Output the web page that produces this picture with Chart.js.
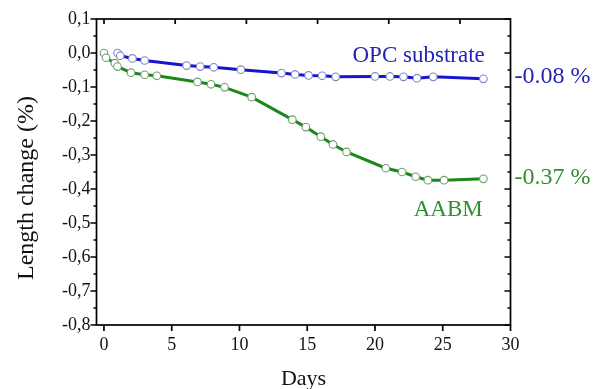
<!DOCTYPE html>
<html>
<head>
<meta charset="utf-8">
<script src="https://cdn.jsdelivr.net/npm/chart.js@4.4.1/dist/chart.umd.min.js"></script>
<style>
  html, body { margin: 0; padding: 0; background: #fff; }
  #wrap { width: 594px; height: 389px; position: relative; }
</style>
</head>
<body>
<div id="wrap"><canvas id="c" width="594" height="389"></canvas></div>
<script>
// ---- data ----
const opcDays   = [1.0, 1.2, 2.1, 3.0, 6.1, 7.1, 8.1, 10.1, 13.1, 14.1, 15.1, 16.1, 17.1, 20.0, 21.1, 22.1, 23.1, 24.3, 28.0];
const opcValues = [0.000, -0.008, -0.016, -0.022, -0.037, -0.040, -0.042, -0.049, -0.059, -0.063, -0.066, -0.067, -0.070, -0.069, -0.069, -0.070, -0.074, -0.070, -0.076];

const aabmDays   = [0.0, 0.15, 0.8, 1.0, 2.0, 3.0, 3.9, 6.9, 7.9, 8.9, 10.9, 13.9, 14.9, 16.0, 16.9, 17.9, 20.8, 22.0, 23.0, 23.9, 25.1, 28.0];
const aabmValues = [0.000, -0.014, -0.030, -0.040, -0.058, -0.064, -0.067, -0.085, -0.092, -0.101, -0.130, -0.196, -0.218, -0.246, -0.269, -0.291, -0.339, -0.350, -0.364, -0.374, -0.374, -0.370];

const seriesNames = ['OPC substrate', 'AABM'];
const endLabels   = ['-0.08 %', '-0.37 %'];
const xTicks = [0, 5, 10, 15, 20, 25, 30];
const yTicks = [0.1, 0.0, -0.1, -0.2, -0.3, -0.4, -0.5, -0.6, -0.7, -0.8];
const xTitle = 'Days';
const yTitle = 'Length change (%)';

// ---- styles ----
const BLUE_LINE = '#1616d0', BLUE_TEXT = '#2424b4', BLUE_PT = '#7f86c8';
const GREEN_LINE = '#1c881c', GREEN_TEXT = '#2f8f2f', GREEN_PT = '#6f9e6f';
const FONT = '"Liberation Serif", "Times New Roman", serif';

const toPts = (xs, ys) => xs.map((x, i) => ({ x: x, y: ys[i] }));

const frameAndText = {
  id: 'frameAndText',
  afterDraw(chart) {
    const { ctx, chartArea: a, scales } = chart;
    const x = scales.x, x2 = scales.x2, y = scales.y;
    ctx.save();
    ctx.strokeStyle = '#000';
    ctx.lineWidth = 1.7;
    ctx.strokeRect(a.left, a.top, a.right - a.left, a.bottom - a.top);
    ctx.beginPath();
    xTicks.forEach(v => { const px = x.getPixelForValue(v); ctx.moveTo(px, a.bottom); ctx.lineTo(px, a.bottom + 6); });
    [0, 5, 10, 15, 20, 25].forEach(v => { const px = x2.getPixelForValue(v); ctx.moveTo(px, a.top); ctx.lineTo(px, a.top + 5); });
    yTicks.forEach(v => {
      const py = y.getPixelForValue(v);
      ctx.moveTo(a.left - 6, py); ctx.lineTo(a.left, py);
      ctx.moveTo(a.right - 6, py); ctx.lineTo(a.right, py);
    });
    ctx.stroke();
    ctx.lineWidth = 1.3;
    ctx.beginPath();
    for (let i = 0; i < yTicks.length - 1; i++) {
      const v = (yTicks[i] + yTicks[i + 1]) / 2;
      const py = y.getPixelForValue(v);
      ctx.moveTo(a.left - 3, py); ctx.lineTo(a.left, py);
      ctx.moveTo(a.right - 3, py); ctx.lineTo(a.right, py);
    }
    ctx.stroke();

    // axis titles
    ctx.fillStyle = '#111';
    ctx.font = '22px ' + FONT;
    ctx.textAlign = 'center';
    ctx.textBaseline = 'middle';
    ctx.fillText(xTitle, (a.left + a.right) / 2, 379);
    ctx.save();
    ctx.translate(27, 188);
    ctx.rotate(-Math.PI / 2);
    ctx.font = '24px ' + FONT;
    ctx.fillText(yTitle, 0, 0);
    ctx.restore();

    // series labels
    ctx.textAlign = 'right';
    ctx.textBaseline = 'alphabetic';
    ctx.font = '23px ' + FONT;
    ctx.fillStyle = BLUE_TEXT;
    ctx.fillText(seriesNames[0], x.getPixelForValue(28.1), y.getPixelForValue(-0.027));
    ctx.fillStyle = GREEN_TEXT;
    ctx.fillText(seriesNames[1], x.getPixelForValue(27.95), y.getPixelForValue(-0.48));

    // end values on right
    ctx.textAlign = 'left';
    ctx.textBaseline = 'middle';
    ctx.font = '24px ' + FONT;
    ctx.fillStyle = BLUE_TEXT;
    ctx.fillText(endLabels[0], a.right + 4, y.getPixelForValue(opcValues[opcValues.length - 1]) - 2);
    ctx.fillStyle = GREEN_TEXT;
    ctx.fillText(endLabels[1], a.right + 4, y.getPixelForValue(aabmValues[aabmValues.length - 1]) - 1);
    ctx.restore();
  }
};

new Chart(document.getElementById('c'), {
  type: 'line',
  data: {
    datasets: [
      {
        label: seriesNames[1],
        data: toPts(aabmDays, aabmValues),
        borderColor: GREEN_LINE,
        borderWidth: 3,
        pointRadius: 3.8,
        pointBorderWidth: 1.1,
        pointBackgroundColor: '#fff',
        pointBorderColor: GREEN_PT,
        tension: 0
      },
      {
        label: seriesNames[0],
        data: toPts(opcDays, opcValues),
        borderColor: BLUE_LINE,
        borderWidth: 3,
        pointRadius: 3.8,
        pointBorderWidth: 1.1,
        pointBackgroundColor: '#fff',
        pointBorderColor: BLUE_PT,
        tension: 0
      }
    ]
  },
  options: {
    responsive: false,
    animation: false,
    devicePixelRatio: 1,
    layout: { padding: { top: 19, right: 83.5, left: 0, bottom: 0 } },
    plugins: { legend: { display: false }, tooltip: { enabled: false } },
    scales: {
      x: {
        type: 'linear',
        position: 'bottom',
        min: -0.55, max: 30,
        afterBuildTicks: s => { s.ticks = xTicks.map(v => ({ value: v })); },
        afterFit: s => { s.height = 64; },
        grid: { display: false, drawTicks: false },
        border: { display: false },
        ticks: { color: '#111', padding: 9, font: { family: FONT, size: 18 }, callback: v => String(v) }
      },
      x2: {
        type: 'linear',
        position: 'top',
        display: false,
        min: -0.527, max: 28.55
      },
      y: {
        type: 'linear',
        min: -0.8, max: 0.1,
        afterBuildTicks: s => { s.ticks = yTicks.map(v => ({ value: v })); },
        afterFit: s => { s.width = 96.5; },
        grid: { display: false, drawTicks: false },
        border: { display: false },
        ticks: { color: '#111', padding: 6, font: { family: FONT, size: 18 },
                 callback: v => (Math.abs(v) < 1e-9 ? 0 : v).toFixed(1).replace('.', ',') }
      }
    }
  },
  plugins: [frameAndText]
});
</script>
</body>
</html>
